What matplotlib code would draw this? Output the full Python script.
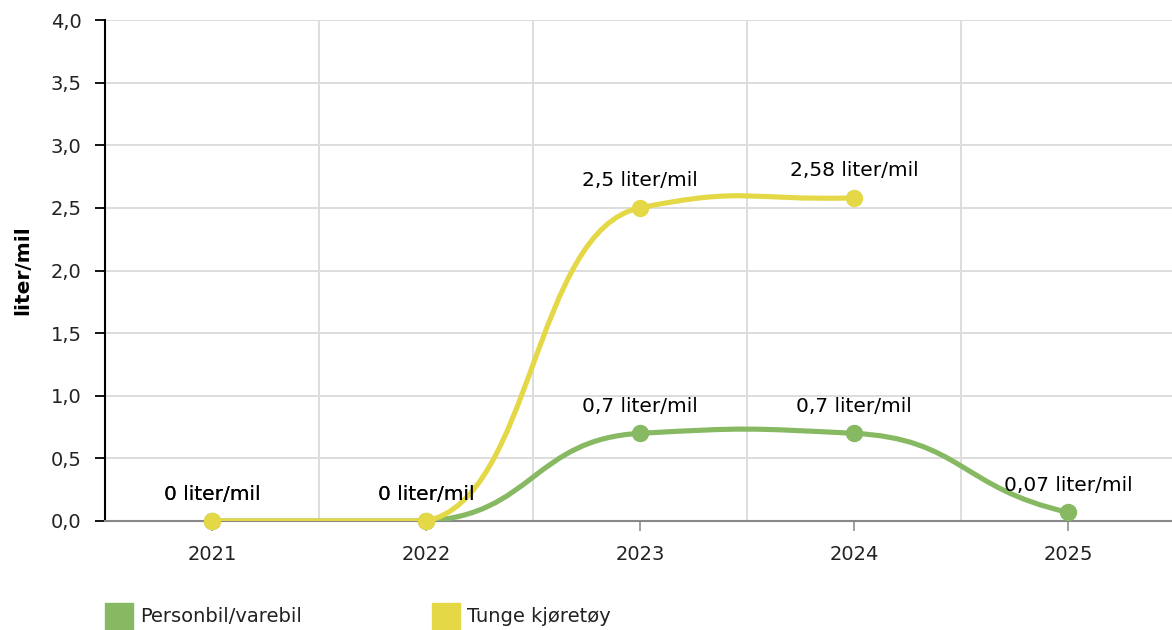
import numpy as np
import matplotlib
matplotlib.use("Agg")
import matplotlib.pyplot as plt
from matplotlib.path import Path
from matplotlib.patches import PathPatch, Rectangle

years = ["2021", "2022", "2023", "2024", "2025"]
series_names = ["Personbil/varebil", "Tunge kjøretøy"]
personbil = [0, 0, 0.7, 0.7, 0.07]
tunge = [0, 0, 2.5, 2.58, None]
colors = ["#86b962", "#e4d847"]
yticks = [0, 0.5, 1.0, 1.5, 2.0, 2.5, 3.0, 3.5, 4.0]


def smooth_path(xs, ys, k=0.27, k_end=0.6, a=0.5, ymin=0.0):
    # cubic bezier through the points, soft tangents, long horizontal handles
    n = len(xs)
    m = []
    for i in range(n):
        if i == 0:
            m.append(k_end * (ys[1] - ys[0]))
        elif i == n - 1:
            m.append(k_end * (ys[i] - ys[i - 1]))
        else:
            m.append(k * (ys[i + 1] - ys[i - 1]) / 2)
    verts = [(xs[0], ys[0])]
    codes = [Path.MOVETO]
    for i in range(1, n):
        dx = xs[i] - xs[i - 1]
        c1 = (xs[i - 1] + a * dx, max(ys[i - 1] + m[i - 1] * a * dx, ymin))
        c2 = (xs[i] - a * dx, max(ys[i] - m[i] * a * dx, ymin))
        verts += [c1, c2, (xs[i], ys[i])]
        codes += [Path.CURVE4] * 3
    return Path(verts, codes)


def fmt(v):
    s = ("%.2f" % v).rstrip("0").rstrip(".")
    return s.replace(".", ",")


fig = plt.figure(figsize=(11.72, 6.3), dpi=100)
W, H = 1172, 630
ax = fig.add_axes([105 / W, (H - 521) / H, 1070 / W, 501 / H])

ax.set_xlim(-0.5, 4.5)
ax.set_ylim(0, 4.0)

for idx, (vals, col) in enumerate(zip([personbil, tunge], colors)):
    pts = [(i, v) for i, v in enumerate(vals) if v is not None]
    xs = [p[0] for p in pts]
    ys = [p[1] for p in pts]
    patch = PathPatch(smooth_path(xs, ys), facecolor="none", edgecolor=col,
                      lw=3.7, capstyle="round", joinstyle="round", zorder=3 + idx)
    ax.add_patch(patch)
    ax.plot(xs, ys, "o", color=col, markersize=11.5, zorder=3 + idx, clip_on=False)
    for x, y in zip(xs, ys):
        ax.annotate(fmt(y) + " liter/mil", (x, y), xytext=(0, 27),
                    textcoords="offset pixels", ha="center", va="center",
                    fontsize=14.5, color="black", zorder=6)

ax.set_yticks(yticks)
ax.set_yticklabels([("%.1f" % t).replace(".", ",") for t in yticks])
ax.set_xticks(range(len(years)))
ax.set_xticklabels(years)
ax.set_xticks([0.5, 1.5, 2.5, 3.5], minor=True)

ax.grid(axis="y", color="#dddddd", lw=1.4)
ax.grid(axis="x", which="minor", color="#dddddd", lw=1.4)
ax.grid(axis="x", which="major", visible=False)
ax.set_axisbelow(True)

ax.tick_params(axis="y", length=7, width=1.3, color="black", pad=10,
               labelsize=14, labelcolor="#222222")
ax.tick_params(axis="x", which="major", length=7, width=1.3, color="#999999",
               pad=10, labelsize=14, labelcolor="#222222")
ax.tick_params(axis="x", which="minor", length=0)

for s in ["top", "right"]:
    ax.spines[s].set_visible(False)
ax.spines["left"].set_color("black")
ax.spines["left"].set_linewidth(1.5)
ax.spines["bottom"].set_color("#888888")
ax.spines["bottom"].set_linewidth(1.5)
ax.spines["bottom"].set_zorder(2.5)

ax.set_ylabel("liter/mil", fontsize=14.5, fontweight="bold")
ax.yaxis.set_label_coords(-0.068, 0.5)

# legend
leg_x = [105, 432]
for name, col, lx in zip(series_names, colors, leg_x):
    fig.patches.append(Rectangle((lx / W, 0), 28 / W, 27 / H, color=col,
                                 transform=fig.transFigure, figure=fig))
    fig.text((lx + 35) / W, (H - 617) / H, name, fontsize=14,
             va="center", ha="left", color="#222222")

fig.savefig("out.png", dpi=100)
